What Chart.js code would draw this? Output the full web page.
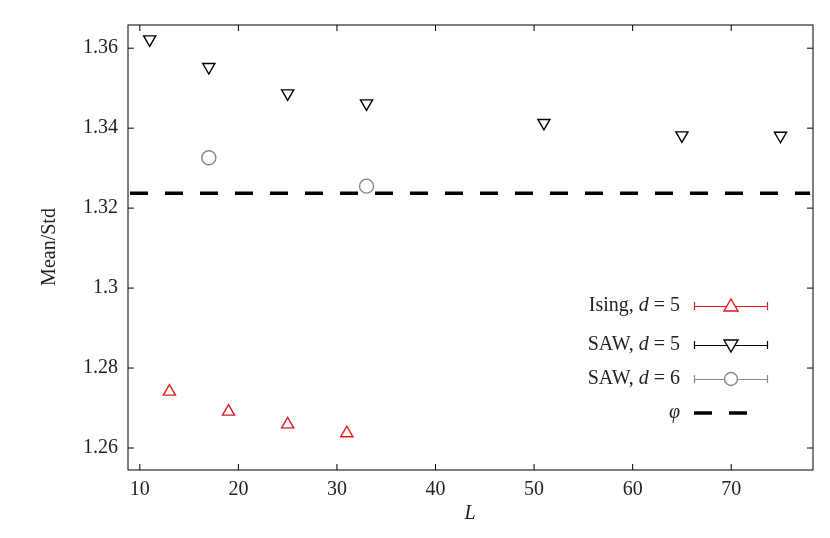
<!DOCTYPE html>
<html><head><meta charset="utf-8">
<script src="https://cdn.jsdelivr.net/npm/chart.js@4"></script>
<style>html,body{margin:0;background:#fff}#w{width:830px;height:538px}</style>
</head><body><div id="w"><canvas id="c"></canvas></div>
<script>
const isingL=[13,19,25,31];
const isingV=[1.2741,1.2691,1.2659,1.2637];
const saw5L=[11,17,25,33,51,65,75];
const saw5V=[1.3622,1.3553,1.3487,1.3462,1.3413,1.3382,1.3381];
const saw6L=[17,33];
const saw6V=[1.3326,1.3255];
const phi=1.3237;
const xTicks=[10,20,30,40,50,60,70];
const yTicks=[1.26,1.28,1.3,1.32,1.34,1.36];
const F='"Liberation Serif", serif';
const pts=(xs,ys)=>xs.map((x,i)=>({x,y:ys[i]}));
const legendItems=[
 {parts:[['Ising, ',''],['d','italic'],[' = 5','']],color:'#e41a1c',style:'triangle',rot:0},
 {parts:[['SAW, ',''],['d','italic'],[' = 5','']],color:'#000',style:'triangle',rot:180},
 {parts:[['SAW, ',''],['d','italic'],[' = 6','']],color:'#888',style:'circle',rot:0},
 {parts:[['φ','italic']],color:'#000',style:'dash'}
];
const deco={id:'deco',afterDraw(ch){
 const c=ch.ctx,a=ch.chartArea,xs=ch.scales.x,ys=ch.scales.y;
 c.save();c.strokeStyle='#000';c.lineWidth=1;
 c.strokeRect(a.left,a.top,a.right-a.left,a.bottom-a.top);
 c.beginPath();
 xTicks.forEach(v=>{const p=xs.getPixelForValue(v);c.moveTo(p,a.bottom);c.lineTo(p,a.bottom-6);c.moveTo(p,a.top);c.lineTo(p,a.top+6);});
 yTicks.forEach(v=>{const p=ys.getPixelForValue(v);c.moveTo(a.left,p);c.lineTo(a.left+6,p);c.moveTo(a.right,p);c.lineTo(a.right-6,p);});
 c.stroke();
 c.fillStyle='#222';c.textAlign='center';c.textBaseline='middle';
 c.font='italic 20px '+F;c.fillText('L',470,514);
 c.save();c.translate(50,247);c.rotate(-Math.PI/2);c.font='20px '+F;c.fillText('Mean/Std',0,0);c.restore();
 c.textAlign='left';
 const rows=[306,345,379,413];
 legendItems.forEach((it,i)=>{
  const y=rows[i];
  let w=0;it.parts.forEach(([t,s])=>{c.font=(s?'italic ':'')+'20px '+F;w+=c.measureText(t).width;});
  let x=680-w;c.fillStyle='#222';c.textBaseline='middle';
  it.parts.forEach(([t,s])=>{c.font=(s?'italic ':'')+'20px '+F;c.fillText(t,x,y);x+=c.measureText(t).width;});
  c.strokeStyle=it.color;
  if(it.style==='dash'){c.lineWidth=3.5;c.beginPath();c.moveTo(694,y);c.lineTo(712,y);c.moveTo(729,y);c.lineTo(747,y);c.stroke();}
  else{
   c.lineWidth=1.2;c.beginPath();c.moveTo(694,y+0.5);c.lineTo(767,y+0.5);c.moveTo(694.5,y-4);c.lineTo(694.5,y+4);c.moveTo(767.5,y-4);c.lineTo(767.5,y+4);c.stroke();
   c.fillStyle='#fff';c.lineWidth=1.4;c.beginPath();
   if(it.style==='circle'){c.arc(731,y,6.5,0,2*Math.PI);}
   else{const s=it.rot?-1:1;c.moveTo(731,y-7*s);c.lineTo(738,y+5*s);c.lineTo(724,y+5*s);c.closePath();}
   c.fill();c.stroke();
  }
 });
 c.restore();
}};
const ds=(label,xs,ys,color,style,rot)=>({label,data:pts(xs,ys),showLine:false,pointStyle:style,rotation:rot||0,pointRadius:7,pointBorderWidth:1.4,pointBackgroundColor:'rgba(255,255,255,0)',pointBorderColor:color,borderColor:color});
new Chart(document.getElementById('c'),{type:'scatter',
 data:{datasets:[
  {label:'phi',data:[{x:9,y:phi},{x:78,y:phi}],showLine:true,borderColor:'#000',borderWidth:3.5,borderDash:[18,17],pointRadius:0},
  ds('Ising, d = 5',isingL,isingV,'#e41a1c','triangle',0),
  ds('SAW, d = 5',saw5L,saw5V,'#000','triangle',180),
  ds('SAW, d = 6',saw6L,saw6V,'#888','circle',0)
 ]},
 options:{responsive:true,maintainAspectRatio:false,animation:false,
  layout:{padding:{top:25,right:17,left:0,bottom:0}},
  plugins:{legend:{display:false},tooltip:{enabled:false}},
  scales:{
   x:{type:'linear',min:8.8,max:78.3,afterFit:s=>{s.height=68},
      afterBuildTicks:s=>{s.ticks=xTicks.map(v=>({value:v}))},
      grid:{display:false,drawTicks:false},border:{display:false},
      ticks:{padding:8,color:'#222',font:{family:F,size:20}}},
   y:{min:1.2545,max:1.3658,afterFit:s=>{s.width=128},
      afterBuildTicks:s=>{s.ticks=yTicks.map(v=>({value:v}))},
      grid:{display:false,drawTicks:false},border:{display:false},
      ticks:{padding:10,color:'#222',font:{family:F,size:20},callback:v=>String(+v.toFixed(2))}}
  }},
 plugins:[deco]});
</script></body></html>
